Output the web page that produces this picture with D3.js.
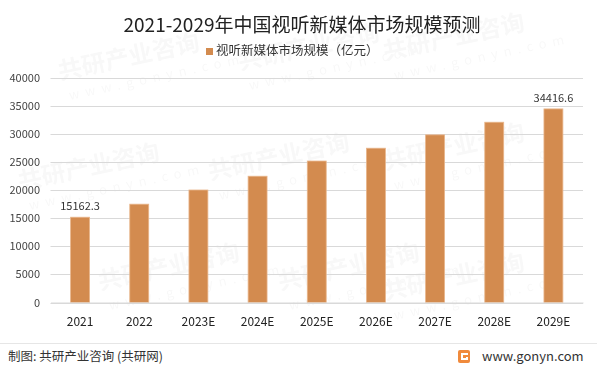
<!DOCTYPE html>
<html>
<head>
<meta charset="utf-8">
<script src="https://cdn.jsdelivr.net/npm/d3@7"></script>
<style>
  body { margin: 0; background: #fff; }
  text { font-family: "Noto Sans CJK SC", "Noto Sans", sans-serif; }
</style>
</head>
<body>
<div class="canvas"></div>
<script>
const categories = ['2021', '2022', '2023E', '2024E', '2025E', '2026E', '2027E', '2028E', '2029E'];
const values = [15162.3, 17480, 20000, 22450, 25150, 27430, 29800, 32050, 34416.6];
const labelled = ['2021', '2029E'];
const yTicks = [0, 5000, 10000, 15000, 20000, 25000, 30000, 35000, 40000];

const W = 597, H = 371;
const svg = d3.select('.canvas')
  .append('svg')
  .attr('width', W)
  .attr('height', H);

svg.append('rect').attr('width', W).attr('height', H).attr('fill', '#fff');

// faint watermarks, kept inside the frame
const marks = [[60, 80], [240, 70], [385, 60], [20, 190], [210, 180], [385, 170], [100, 290], [280, 290], [385, 300]];
const wm = svg.append('g').attr('fill', '#000').attr('opacity', 0.03);
marks.forEach(([x, y]) => {
  wm.append('text')
    .attr('transform', `translate(${x},${y}) rotate(-12)`)
    .attr('font-size', 24).attr('font-weight', 'bold')
    .text('共研产业咨询');
  wm.append('text')
    .attr('transform', `translate(${x + 10},${y + 20}) rotate(-12)`)
    .attr('font-size', 13).attr('letter-spacing', 6)
    .text('www.gonyn.com');
});

const x = d3.scaleBand()
  .domain(categories)
  .range([50.5, 583])
  .paddingInner(0.68)
  .paddingOuter(0.34);

const y = d3.scaleLinear()
  .domain([0, 40000])
  .range([302.5, 77.5]);

// title
svg.append('text')
  .attr('x', 302).attr('y', 32)
  .attr('text-anchor', 'middle')
  .attr('font-size', 19)
  .attr('fill', '#222')
  .text('2021-2029年中国视听新媒体市场规模预测');

// legend
svg.append('rect')
  .attr('x', 206).attr('y', 48)
  .attr('width', 7).attr('height', 7)
  .attr('fill', '#d38b4f');
svg.append('text')
  .attr('x', 216).attr('y', 55)
  .attr('font-size', 12.5)
  .attr('fill', '#333')
  .text('视听新媒体市场规模（亿元）');

// grid
svg.append('g')
  .selectAll('line')
  .data(yTicks)
  .join('line')
  .attr('x1', 50.5).attr('x2', 583)
  .attr('y1', d => Math.round(y(d)) + 0.5)
  .attr('y2', d => Math.round(y(d)) + 0.5)
  .attr('stroke', '#d9d9d9')
  .attr('stroke-width', 1);

// y axis labels
const yAxis = svg.append('g')
  .attr('transform', 'translate(40,0)')
  .call(d3.axisLeft(y).tickValues(yTicks).tickSize(0).tickPadding(0).tickFormat(d3.format('d')));
yAxis.select('.domain').remove();
yAxis.selectAll('text')
  .attr('font-family', '"Noto Sans CJK SC", sans-serif')
  .attr('font-size', 11)
  .attr('fill', '#444');

// bars
svg.append('g')
  .selectAll('rect')
  .data(values)
  .join('rect')
  .attr('x', (d, i) => x(categories[i]))
  .attr('y', d => y(d))
  .attr('width', x.bandwidth())
  .attr('height', d => y(0) - y(d))
  .attr('fill', '#d38b4f')
  .attr('stroke', '#e9b68c')
  .attr('stroke-width', 0.8);

// value labels
svg.append('g')
  .selectAll('text')
  .data(values.filter((d, i) => labelled.includes(categories[i])))
  .join('text')
  .attr('x', d => x(categories[values.indexOf(d)]) + x.bandwidth() / 2)
  .attr('y', d => y(d) - 7)
  .attr('text-anchor', 'middle')
  .attr('font-size', 11)
  .attr('fill', '#333')
  .text(d => d.toFixed(1));

// x axis
const xAxis = svg.append('g')
  .attr('transform', 'translate(0,302.5)')
  .call(d3.axisBottom(x).tickSize(0).tickPadding(15));
xAxis.select('.domain').attr('stroke', '#d9d9d9');
xAxis.selectAll('text')
  .attr('font-family', '"Noto Sans CJK SC", sans-serif')
  .attr('font-size', 12)
  .attr('fill', '#222');

// footer
svg.append('line')
  .attr('x1', 0).attr('x2', W)
  .attr('y1', 343.5).attr('y2', 343.5)
  .attr('stroke', '#e6e6e6');
svg.append('text')
  .attr('x', 8).attr('y', 361)
  .attr('font-size', 12.5)
  .attr('fill', '#333')
  .text('制图: 共研产业咨询 (共研网)');

const logo = svg.append('g').attr('transform', 'translate(458,350)');
logo.append('rect').attr('width', 12).attr('height', 13).attr('rx', 2).attr('fill', '#f08a3c');
logo.append('path').attr('d', 'M3 3 H10 V5 H5 V8 H8 V7 H10 V10 H3 Z').attr('fill', '#fff');
svg.append('text')
  .attr('x', 482).attr('y', 361)
  .attr('font-size', 13)
  .attr('fill', '#333')
  .text('www.gonyn.com');
</script>
</body>
</html>
